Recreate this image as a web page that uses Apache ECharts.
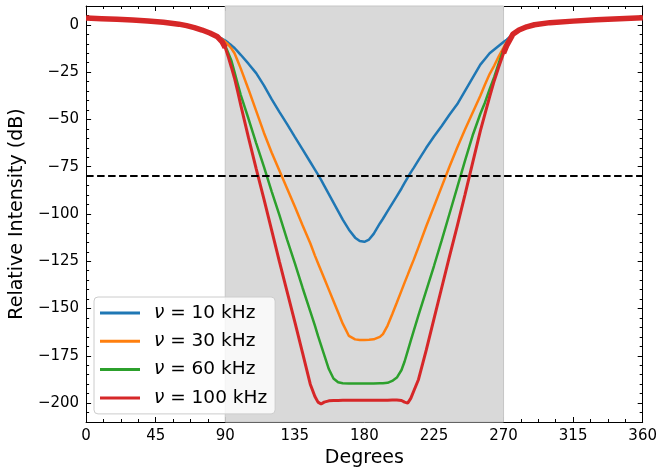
<!DOCTYPE html>
<html><head><meta charset="utf-8">
<script src="https://cdn.jsdelivr.net/npm/echarts@6/dist/echarts.min.js"></script>
<style>html,body{margin:0;padding:0;background:#fff}#c{width:660px;height:473px}</style>
</head><body><div id="c"></div>
<script>
// ---- data ----
const degrees = [0,10,20,30,40,50,60,65,70,75,80,85,
  88,90,92,94,96,98,100,105,110,115,120,125,130,135,140,145,148,150,152,154,157,160,163,166,170,174,177,180,
  183,186,190,192,195,198,201,204,206,208,210,212,215,220,225,230,235,240,245,250,255,258,261,264,267,270,272,
  276,280,285,290,300,315,330,345,360];
const outerLeft  = [3.6,3.3,3.0,2.6,2.1,1.4,0.4,-0.4,-1.4,-2.7,-4.3,-6.3];
const outerRight = [-5.0,-2.7,-1.0,0.1,1.2,2.0,2.7,3.3,3.8];
const mid10kHz = [-7.3,-8.3,-9.5,-10.8,-12.2,-14,-15.8,-20.5,-25.5,-32,-39.3,-46,-52.5,-59.2,-65.8,-72.5,-76.5,-79.2,-82,-85,-89.5,-94,-98.5,-103,-108.3,-112.5,-114.3,-114.7,
  -113.5,-110.5,-105,-102.5,-98.5,-94.5,-90.5,-86.5,-83.5,-80.7,-78,-75.5,-71.5,-65,-59,-53.5,-47.5,-42,-35,-28,-21,-18,-15,-13,-11,-9,-7.8];
const mid30kHz = [-7.5,-9,-10.5,-12.5,-15,-19,-23,-34,-45.5,-57,-67.5,-77,-86.5,-96,-106,-115.5,-122,-126,-130,-134,-140,-146,-152,-158,-164.5,-166.3,-166.6,-166.6,
  -166.5,-166.3,-165,-163.5,-159,-153,-146.8,-140.5,-136.3,-132.2,-128,-124,-117.5,-106.5,-96,-85.5,-75,-65,-55.5,-46.5,-37.5,-31.5,-26,-21.5,-16.5,-12,-9];
const mid60kHz = [-8.5,-11,-15,-19,-25,-31,-37,-49.5,-62.5,-75,-88,-100.5,-113.5,-126,-139,-151.5,-159,-164.5,-169.5,-174.5,-182,-187,-189,-189.5,-189.6,-189.6,-189.6,-189.6,
  -189.6,-189.6,-189.5,-189.5,-189.3,-188.3,-186.5,-182.5,-178,-172.5,-167,-161.5,-153.5,-140.5,-127.5,-114,-100,-86,-72,-58.5,-47,-41,-34,-27.5,-20,-13,-9.5];
const mid100kHz = [-9,-12,-17,-22.5,-28.2,-35,-42.3,-59.5,-76,-92,-108.5,-125,-141,-157,-173.5,-190,-196.5,-199.5,-200.5,-199.5,-198.8,-198.6,-198.6,-198.5,-198.5,-198.5,-198.5,-198.5,
  -198.5,-198.5,-198.5,-198.5,-198.5,-198.4,-198.4,-198.6,-199.5,-200,-197.5,-193.5,-187.5,-172,-155.5,-139,-122.5,-106.5,-90,-73,-56,-47,-38,-29.5,-22,-15,-11];
const seriesNames = ['ν = 10 kHz','ν = 30 kHz','ν = 60 kHz','ν = 100 kHz'];
const seriesColors = ['#1f77b4','#ff7f0e','#2ca02c','#d62728'];
const xTicks = [0,45,90,135,180,225,270,315,360];
const yTicks = [-200,-175,-150,-125,-100,-75,-50,-25,0];
const yRange = [-210, 10];
const shadeRange = [90, 270];
const threshold = -80;

const values = [mid10kHz, mid30kHz, mid60kHz, mid100kHz].map(m => outerLeft.concat(m, outerRight));
const yMinor = [];
for (let v = yRange[0]; v <= yRange[1]; v += 5) yMinor.push(v);

const FONT = 'DejaVu Sans';
const chart = echarts.init(document.getElementById('c'), null, {renderer: 'canvas'});

function xAx(pos) {
  return {
    type: 'value', min: xTicks[0], max: xTicks[xTicks.length - 1], interval: 45, position: pos,
    axisLine: {show: true, onZero: false, lineStyle: {color: '#000', width: 1}},
    axisTick: {show: true, inside: true, length: 5, lineStyle: {color: '#000', width: 1}},
    minorTick: {show: true, splitNumber: 4, length: 3, lineStyle: {color: '#000', width: 1}},
    splitLine: {show: false},
    axisLabel: {show: pos === 'bottom', fontSize: 15, color: '#000', margin: 7, fontFamily: FONT},
    name: pos === 'bottom' ? 'Degrees' : '', nameLocation: 'middle', nameGap: 27,
    nameTextStyle: {fontSize: 19, color: '#000', fontFamily: FONT}
  };
}
function yAx(pos, minor) {
  return {
    type: 'value', min: yRange[0], max: yRange[1], position: pos,
    axisLine: {show: !minor, onZero: false, lineStyle: {color: '#000', width: 1}},
    axisTick: {show: true, inside: true, length: minor ? 3 : 5, customValues: minor ? yMinor : yTicks, lineStyle: {color: '#000', width: 1}},
    splitLine: {show: false},
    axisLabel: {show: pos === 'left' && !minor, customValues: yTicks, fontSize: 15, color: '#000', margin: 7, fontFamily: FONT,
      formatter: v => v < 0 ? '\u2212' + Math.abs(v) : String(v)},
    name: (pos === 'left' && !minor) ? 'Relative Intensity (dB)' : '', nameLocation: 'middle', nameGap: 56, nameRotate: 90,
    nameTextStyle: {fontSize: 19, color: '#000', fontFamily: FONT}
  };
}

const lineSeries = values.map((vals, k) => ({
  name: seriesNames[k], type: 'line', xAxisIndex: 0, yAxisIndex: 0,
  data: degrees.map((d, i) => [d, vals[i]]),
  symbol: 'none', showSymbol: false, smooth: false, z: 3,
  lineStyle: {color: seriesColors[k], width: k === 3 ? 3 : 2.5},
  itemStyle: {color: seriesColors[k]}
}));
// noisy (thicker) part of the 100 kHz trace outside the shaded span
lineSeries.push({
  name: 'noise', type: 'line', xAxisIndex: 0, yAxisIndex: 0,
  data: degrees.map((d, i) => [d, (d <= shadeRange[0] || d >= shadeRange[1]) ? values[3][i] : null]),
  symbol: 'none', connectNulls: false, z: 3, silent: true,
  lineStyle: {color: seriesColors[3], width: 5.5}
});

const option = {
  animation: false,
  backgroundColor: '#fff',
  textStyle: {fontFamily: FONT},
  grid: {left: 84, right: 16, top: 6, bottom: 50},
  xAxis: [xAx('bottom'), xAx('top')],
  yAxis: [yAx('left', false), yAx('left', true), yAx('right', false), yAx('right', true)],
  legend: {
    data: seriesNames, orient: 'vertical', left: 94, top: 297,
    icon: 'rect', itemWidth: 40, itemHeight: 3, itemGap: 8.3, padding: [6, 8, 6, 6],
    backgroundColor: 'rgba(255,255,255,0.8)', borderColor: '#cccccc', borderWidth: 1, borderRadius: 4,
    textStyle: {fontSize: 18.5, lineHeight: 20, color: '#000', fontFamily: FONT, padding: [0, 0, 0, 9],
      rich: {i: {fontSize: 18.5, lineHeight: 20, fontStyle: 'italic', fontFamily: FONT, color: '#000'}}},
    formatter: n => n.replace('ν', '{i|ν}')
  },
  series: [
    {
      name: 'span', type: 'line', data: [], z: 1, silent: true,
      markArea: {silent: true, itemStyle: {color: '#d9d9d9', borderColor: '#c6c6c6', borderWidth: 1},
        data: [[{xAxis: shadeRange[0]}, {xAxis: shadeRange[1]}]]}
    },
    ...lineSeries,
    {
      name: 'threshold', type: 'line', data: [], z: 5, silent: true,
      markLine: {silent: true, symbol: 'none', label: {show: false},
        lineStyle: {color: '#000', type: [7.5, 3.5], width: 2},
        data: [{yAxis: threshold}]}
    }
  ]
};
chart.setOption(option);
</script></body></html>
